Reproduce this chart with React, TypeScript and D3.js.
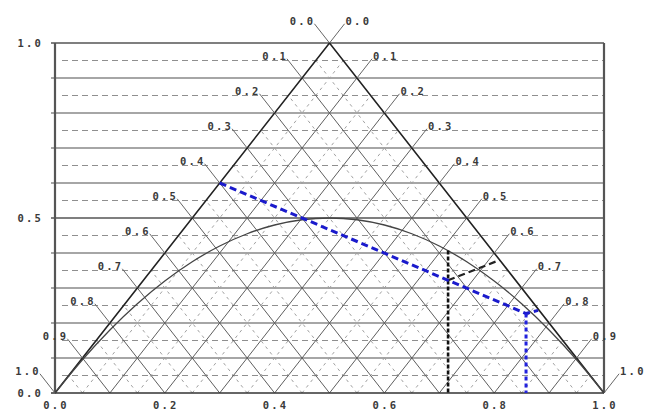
import * as d3 from "d3";

const W = 646;
const H = 414;

// bottom axis and left axis ticks
const xTicks = [0, 0.2, 0.4, 0.6, 0.8, 1.0];
const yTicks = [0, 0.5, 1.0];

// grid levels
const majorLevels = [0.1, 0.2, 0.3, 0.4, 0.5, 0.6, 0.7, 0.8, 0.9];
const minorLevels = [0.05, 0.15, 0.25, 0.35, 0.45, 0.55, 0.65, 0.75, 0.85, 0.95];
const hLevels = [0.1, 0.2, 0.3, 0.4, 0.5, 0.6, 0.7, 0.8, 0.9, 1.0];

// labels along the triangle sides
const sideValues = [0, 0.1, 0.2, 0.3, 0.4, 0.5, 0.6, 0.7, 0.8, 0.9, 1.0];

// Hardy-Weinberg parabola
const curveP = [0, 0.05, 0.1, 0.15, 0.2, 0.25, 0.3, 0.35, 0.4, 0.45, 0.5, 0.55, 0.6, 0.65, 0.7, 0.75, 0.8, 0.85, 0.9, 0.95, 1.0];
const curveH = [0, 0.095, 0.18, 0.255, 0.32, 0.375, 0.42, 0.455, 0.48, 0.495, 0.5, 0.495, 0.48, 0.455, 0.42, 0.375, 0.32, 0.255, 0.18, 0.095, 0];

// construction lines
const bluePath: [number, number][] = [[0.3, 0.6], [0.45, 0.5], [0.716, 0.322], [0.858, 0.227], [0.88, 0.236]];
const blueDrop: [number, number][] = [[0.858, 0.227], [0.858, 0]];
const blackDrop: [number, number][] = [[0.716, 0.407], [0.716, 0]];
const blackLink: [number, number][] = [[0.716, 0.322], [0.81, 0.38]];

const LEAD = 0.055;
const FONT = "'DejaVu Sans Mono', 'Liberation Mono', monospace";

export default function App() {
  const x = d3.scaleLinear().domain([0, 1]).range([55, 604]);
  const y = d3.scaleLinear().domain([0, 1]).range([393, 43]);
  const line = d3
    .line<[number, number]>()
    .x((d) => x(d[0]))
    .y((d) => y(d[1]));
  const curve = d3
    .line<number>()
    .x((d) => x(d))
    .y((_, i) => y(curveH[i]))
    .curve(d3.curveCatmullRom);

  const txt = {
    fontFamily: FONT,
    fontSize: 10.5,
    fontWeight: 700,
    letterSpacing: 2.2,
    fill: "#3a3a3a",
  } as const;

  return (
    <svg width={W} height={H} style={{ position: "absolute", left: 0, top: 0, background: "#fff" }}>
      {/* horizontal grid */}
      {minorLevels.map((v) => (
        <line key={"hm" + v} x1={62} x2={604} y1={y(v)} y2={y(v)} stroke="#8f8f8f" strokeDasharray="6,4" />
      ))}
      {hLevels.map((v) => (
        <line
          key={"h" + v}
          x1={51}
          x2={604}
          y1={y(v)}
          y2={y(v)}
          stroke={v === 0.5 || v === 1 ? "#555" : "#888"}
          strokeWidth={v === 1 ? 1.6 : 1.3}
        />
      ))}

      {/* minor diagonal grid */}
      {minorLevels.map((t) => (
        <g key={"dm" + t} stroke="#a0a0a0" strokeDasharray="3,4" strokeWidth={1}>
          <line x1={x(t)} y1={y(0)} x2={x((1 + t) / 2)} y2={y(1 - t)} />
          <line x1={x(t)} y1={y(0)} x2={x(t / 2)} y2={y(t)} />
        </g>
      ))}
      {/* major diagonal grid */}
      {majorLevels.map((t) => (
        <g key={"dM" + t} stroke="#5e5e5e" strokeWidth={1}>
          <line x1={x(t)} y1={y(0)} x2={x((1 + t) / 2)} y2={y(1 - t)} />
          <line x1={x(t)} y1={y(0)} x2={x(t / 2)} y2={y(t)} />
        </g>
      ))}

      {/* frame */}
      <line x1={55} x2={55} y1={y(1)} y2={y(0)} stroke="#555" strokeWidth={2.2} />
      <line x1={604} x2={604} y1={y(1)} y2={y(0)} stroke="#555" strokeWidth={2.2} />
      <line x1={51} x2={604} y1={y(0)} y2={y(0)} stroke="#333" strokeWidth={1.6} />

      {/* triangle */}
      <path d={line([[0, 0], [0.5, 1], [1, 0]])!} fill="none" stroke="#222" strokeWidth={1.6} />

      {/* leaders and side labels */}
      {sideValues.map((k) => {
        const h = 1 - k;
        const lx = 0.5 * h;
        const rx = 1 - 0.5 * h;
        const lEnd: [number, number] = [lx - LEAD / 2, h + LEAD];
        const rEnd: [number, number] = [rx + LEAD / 2, h + LEAD];
        return (
          <g key={"s" + k}>
            <line x1={x(lx)} y1={y(h)} x2={x(lEnd[0])} y2={y(lEnd[1])} stroke="#666" />
            <line x1={x(rx)} y1={y(h)} x2={x(rEnd[0])} y2={y(rEnd[1])} stroke="#666" />
            <text {...txt} x={x(lEnd[0]) + 1} y={y(lEnd[1]) + 1} textAnchor="end">
              {k.toFixed(1)}
            </text>
            <text {...txt} x={x(rEnd[0]) + 1} y={y(lEnd[1]) + 1} textAnchor="start">
              {k.toFixed(1)}
            </text>
          </g>
        );
      })}

      {/* axis labels */}
      {yTicks.map((v) => (
        <text key={"y" + v} {...txt} x={43} y={y(v) + 4} textAnchor="end">
          {v.toFixed(1)}
        </text>
      ))}
      {xTicks.map((v) => (
        <text key={"x" + v} {...txt} x={x(v) + 1} y={409} textAnchor="middle">
          {v.toFixed(1)}
        </text>
      ))}

      {/* Hardy-Weinberg curve */}
      <path d={curve(curveP)!} fill="none" stroke="#444" strokeWidth={1.3} />

      {/* construction lines */}
      <path d={line(blackDrop)!} fill="none" stroke="#111" strokeWidth={2.6} strokeDasharray="4,2" />
      <path d={line(blackLink)!} fill="none" stroke="#222" strokeWidth={2.2} strokeDasharray="7,4" />
      <path d={line(bluePath)!} fill="none" stroke="#1a1acc" strokeWidth={3} strokeDasharray="7,4" />
      <path d={line(blueDrop)!} fill="none" stroke="#2222dd" strokeWidth={3} strokeDasharray="4,3" />
    </svg>
  );
}
